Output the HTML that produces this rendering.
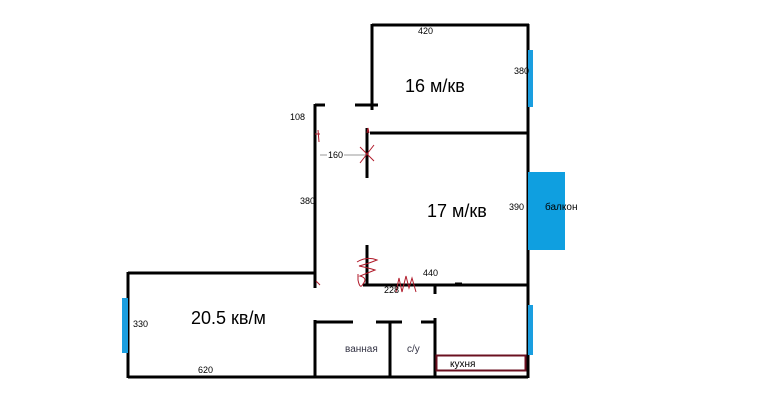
<!DOCTYPE html>
<html><head><meta charset="utf-8"><style>
html,body{margin:0;padding:0;background:#fff;width:770px;height:404px;overflow:hidden}
text{font-family:"Liberation Sans","DejaVu Sans",sans-serif}
</style></head><body>
<svg width="770" height="404" viewBox="0 0 770 404" xmlns="http://www.w3.org/2000/svg">
<g stroke="#000" stroke-width="3" fill="none">
<line x1="372" y1="25" x2="529" y2="25"/>
<line x1="372" y1="24" x2="372" y2="110"/>
<line x1="355" y1="105" x2="378" y2="105"/>
<line x1="528" y1="24" x2="528" y2="378"/>
<line x1="370" y1="133" x2="528" y2="133"/>
<line x1="367" y1="128" x2="367" y2="178"/>
<line x1="315" y1="104" x2="315" y2="288"/>
<line x1="315" y1="105" x2="325" y2="105"/>
<line x1="128" y1="273" x2="315" y2="273"/>
<line x1="128" y1="272" x2="128" y2="378"/>
<line x1="128" y1="377" x2="528" y2="377"/>
<line x1="367" y1="245" x2="367" y2="286"/>
<line x1="363" y1="285" x2="528" y2="285"/>
<line x1="435" y1="286" x2="435" y2="294"/>
<line x1="455" y1="284" x2="462" y2="284"/>
<line x1="315" y1="320" x2="315" y2="378"/>
<line x1="315" y1="322" x2="353" y2="322"/>
<line x1="376" y1="322" x2="402" y2="322"/>
<line x1="421" y1="322" x2="435" y2="322"/>
<line x1="390" y1="322" x2="390" y2="378"/>
<line x1="435" y1="318" x2="435" y2="378"/>
</g>
<rect x="528" y="50" width="5" height="57" fill="#1a9ee0"/>
<rect x="528" y="172" width="37" height="78" fill="#0f9fe0"/>
<rect x="528" y="305" width="5" height="50" fill="#1a9ee0"/>
<rect x="122" y="298" width="6" height="55" fill="#1a9ee0"/>
<rect x="436.5" y="355.5" width="89" height="15" fill="none" stroke="#6b1020" stroke-width="2"/>
<line x1="320" y1="155" x2="327" y2="155" stroke="#999" stroke-width="1"/>
<line x1="344" y1="155" x2="366" y2="155" stroke="#999" stroke-width="1"/>
<g stroke="#b01a2a" stroke-width="1" fill="none">
<line x1="360" y1="147" x2="374" y2="161"/><line x1="374" y1="145" x2="360" y2="163"/>
<line x1="315" y1="134" x2="320" y2="134"/><line x1="318" y1="130" x2="319" y2="142"/>
<path d="M367 133 l1 -5 l1 5"/>
<path d="M357 262 q10 -6 20 -2 q-10 4 -18 6 q10 2 16 4 q-10 4 -15 6 q8 2 3 8 q-3 6 -5 -4 l0 -6"/>
<path d="M396 292 l3 -14 l3 14 l4 -16 l3 12 l3 -10 l4 14"/>
<path d="M316 281 l4 4"/>
</g>
<g fill="#000">
<text x="418" y="34" font-size="9">420</text>
<text x="514" y="74" font-size="9">380</text>
<text x="405" y="92" font-size="18">16 м/кв</text>
<text x="290" y="120" font-size="9">108</text>
<text x="328" y="158" font-size="9">160</text>
<text x="300" y="204" font-size="9">380</text>
<text x="427" y="217" font-size="18">17 м/кв</text>
<text x="509" y="210" font-size="9">390</text>
<text x="545" y="210" font-size="10">балкон</text>
<text x="423" y="276" font-size="9">440</text>
<text x="384" y="293" font-size="9">228</text>
<text x="191" y="324" font-size="18">20.5 кв/м</text>
<text x="133" y="327" font-size="9">330</text>
<text x="198" y="373" font-size="9">620</text>
<text x="345" y="352" font-size="10" fill="#334">ванная</text>
<text x="407" y="352" font-size="10" fill="#334">с/у</text>
<text x="450" y="367" font-size="10">кухня</text>
</g>
</svg>
</body></html>
